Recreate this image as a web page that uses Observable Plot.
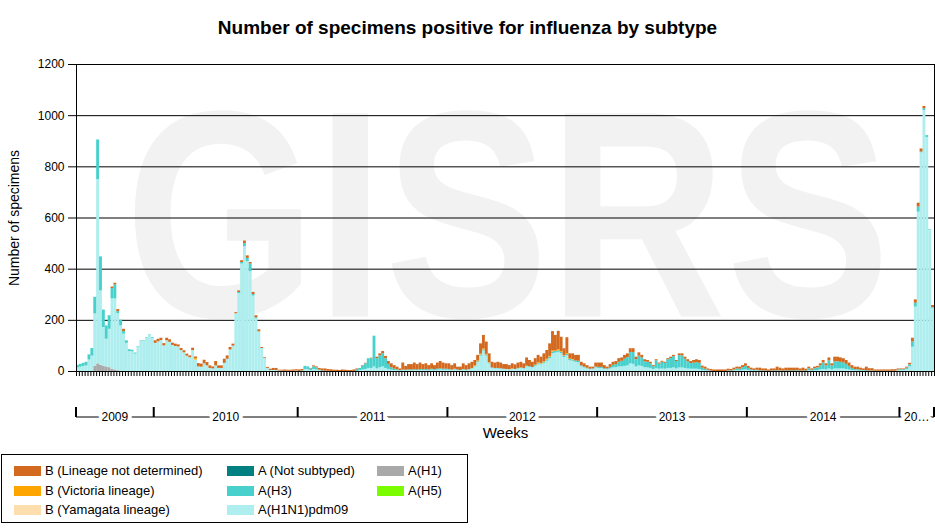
<!DOCTYPE html>
<html><head><meta charset="utf-8">
<script src="https://cdn.jsdelivr.net/npm/d3@7"></script>
<script src="https://cdn.jsdelivr.net/npm/@observablehq/plot@0.6"></script>
<style>
body{margin:0;background:#fff;font-family:"Liberation Sans",Arial,sans-serif;color:#000;}
#wrap{position:relative;width:935px;height:529px;overflow:hidden;}
#title{position:absolute;top:16px;left:0;width:935px;text-align:center;font-weight:bold;font-size:19px;line-height:24px;}
#chart{position:absolute;top:40px;left:0;}
#legendBox{position:absolute;left:1px;top:454px;width:467px;height:69px;border:1px solid #000;box-sizing:border-box;}
.item{position:absolute;font-size:13px;line-height:14px;white-space:nowrap;}
.sw{position:absolute;width:27px;height:10px;}
</style></head><body>
<div id="wrap">
<div id="title">Number of specimens positive for influenza by subtype</div>
<div id="chart"></div>
<div id="legendBox"></div>
</div>
<script>
// ---- categories ----
const years = [2009, 2010, 2011, 2012, 2013, 2014, 2015];
const weeksPerYear = [27, 50, 52, 52, 52, 53, 12];
const yearLabels = ["2009", "2010", "2011", "2012", "2013", "2014", "20…"];
const yTicks = [0, 200, 400, 600, 800, 1000, 1200];

const seriesNames = ["B (Lineage not determined)", "B (Victoria lineage)", "B (Yamagata lineage)",
  "A (Not subtyped)", "A(H3)", "A(H1N1)pdm09", "A(H1)", "A(H5)"];
const seriesColors = ["#D2691E", "#FFA500", "#FFDEAD", "#008080", "#48D1CC", "#AFEEEE", "#A9A9A9", "#7CFC00"];
const stackOrder = ["A(H1)", "A(H5)", "A(H1N1)pdm09", "A(H3)", "A (Not subtyped)",
  "B (Yamagata lineage)", "B (Victoria lineage)", "B (Lineage not determined)"];

// ---- weekly values (one per week) ----
const pdm09 = [
  14,17,20,22,45,60,205,720,290,152,108,150,276,278,223,178,146,110,78,77,68,96,118,118,131,141,130,
  110,116,121,100,120,114,102,98,96,82,73,60,54,82,45,
  18,17,30,22,12,10,22,12,12,32,48,84,99,
  226,305,420,488,430,390,295,206,155,90,52,12,
  4,4,4,2,1,1,1,1,1,2,
  0,0,8,7,4,8,6,3,0,0,0,0,
  0,0,0,0,0,0,0,0,0,4,
  6,8,12,12,18,10,15,18,12,8,
  5,4,3,2,3,3,4,3,4,3,4,4,4,3,5,4,5,6,5,5,
  5,4,6,4,4,6,5,6,10,18,35,60,80,60,30,
  12,10,10,9,8,8,7,9,8,10,12,10,
  18,16,14,20,28,26,32,40,50,70,72,75,70,55,62,42,40,36,34,
  18,14,10,7,8,14,
  12,12,8,7,10,14,15,18,18,20,22,30,28,18,22,20,15,14,12,8,
  12,9,10,9,12,12,14,10,14,14,12,10,9,9,9,8,
  4,3,2,0,0,0,0,0,0,0,0,2,4,3,5,6,
  4,2,2,2,0,0,0,0,0,0,0,0,0,0,0,0,0,0,0,0,0,
  3,2,3,4,6,8,6,10,6,10,10,10,10,8,6,4,3,3,2,2,
  0,0,0,0,0,0,0,0,0,0,0,3,
  4,4,8,18,95,252,623,855,1020,915,553,247
];
const h3 = [
  10,11,12,14,20,30,65,155,133,68,52,53,40,55,8,22,10,10,7,6,4,2,2,2,2,2,3,
  0,0,0,0,0,0,0,0,0,0,0,0,0,0,0,
  0,0,0,0,0,0,0,0,0,0,0,0,0,
  0,4,6,12,12,30,6,4,0,0,0,0,
  0,0,0,0,0,0,0,0,0,0,
  0,3,12,11,6,10,8,3,2,1,1,0,
  0,0,0,0,0,0,0,0,6,8,
  15,22,38,38,120,40,46,52,38,20,
  10,5,4,2,3,2,3,3,3,3,4,3,4,3,4,3,4,5,4,4,
  3,2,3,2,0,2,0,2,2,2,3,4,4,4,3,
  2,2,2,2,1,0,0,1,0,2,2,2,
  3,3,2,3,4,3,4,5,6,6,6,6,5,5,5,5,5,5,6,
  4,3,3,2,2,3,
  4,4,3,3,6,10,12,18,22,28,32,44,46,28,38,33,23,22,18,11,
  30,20,26,23,34,39,44,29,48,47,36,28,22,24,26,24,
  9,6,3,2,0,0,0,0,0,3,2,4,6,6,10,14,
  8,4,2,3,3,2,2,1,2,2,3,2,2,2,2,3,2,3,2,2,2,
  8,3,8,10,16,25,16,32,16,28,28,26,24,20,14,8,4,4,3,2,
  3,2,2,1,1,1,1,1,1,1,1,3,
  3,3,5,8,20,15,20,3,7,7,2,3
];
// A(H1): only seen in the first weeks; later weeks are zero
const h1 = [
  0,0,0,0,0,0,20,30,25,20,18,15,8,6,3
];
// B Victoria: sparse; weeks after the last value are zero
const victoria = [
  0,0,0,0,0,0,0,0,0,0, 0,0,0,0,0,0,0,0,0,0, 0,0,0,0,0,0,0,
  0,0,0,0,0,0,0,0,0,0, 0,0,0,0,6,
  0,0,0,0,0,0,0,0,0,0, 0,0,0,0,0,0,0,0,0,0, 0,0,0,0,0,0,0,0,0,0, 0,0,0,0,0,
  0,0,0,0,0,0,0,0,0,0, 0,0,0,0,0,0,0,0,0,0, 0,0,0,0,0,0,0,0,0,0,
  0,0,0,0,0,0,0,0,0,0, 0,0,0,0,0,0,0,0,0,0, 0,0,
  0,0,0,0,0,0,0,0,0, 3,3,4,4,3,2,
  0,0,0,0,0,0,0,0,0,0, 0,0,0,0,0,
  2,3,3,3,3,3,4,3,4,3,2,3,2,2
];
const bNotDetermined = [
  0,0,0,0,0,0,0,0,0,0,0,0,6,6,8,0,9,0,0,0,0,0,0,0,0,0,0,
  10,10,9,9,10,10,9,9,8,8,8,8,7,9,6,
  13,12,14,13,10,8,17,10,10,16,13,10,8,
  4,6,7,10,10,6,8,8,8,4,3,4,
  5,8,8,3,4,5,4,4,5,5,
  6,5,0,0,2,4,4,6,8,9,7,7,
  5,5,4,6,5,4,4,6,4,0,
  2,2,0,2,0,6,8,8,9,11,
  15,14,10,6,27,15,20,21,26,21,25,20,22,17,21,16,24,28,24,21,
  22,17,21,11,13,22,18,22,24,20,22,40,53,48,34,
  22,21,24,22,18,19,16,20,18,21,22,18,
  32,24,20,25,28,24,30,34,49,76,60,72,56,27,62,20,22,22,23,
  14,13,10,8,7,16,
  17,17,12,7,11,12,12,14,13,15,15,15,15,10,13,10,8,7,6,4,
  4,4,4,4,4,5,5,4,7,8,8,8,8,10,11,11,
  8,8,5,6,6,6,6,6,6,6,6,7,7,8,8,10,
  8,7,6,8,10,8,8,5,8,8,14,11,8,11,11,10,11,10,8,11,7,
  6,5,6,6,8,10,8,11,8,18,18,17,16,15,13,11,10,10,8,6,
  14,9,9,5,5,5,5,5,5,6,6,4,
  3,3,4,6,15,13,15,12,9,0,0,8
];

// ---- build table ----
const nWeeks = d3.sum(weeksPerYear);
const seriesData = {
  "A(H1)": h1, "A(H1N1)pdm09": pdm09, "A(H3)": h3,
  "B (Victoria lineage)": victoria, "B (Lineage not determined)": bNotDetermined
};
const rows = [];
for (const [name, arr] of Object.entries(seriesData)) {
  for (let i = 0; i < nWeeks; i++) rows.push({week: i, series: name, value: arr[i] ?? 0});
}
const weekTicks = d3.range(nWeeks + 1);
const bounds = [0, ...d3.cumsum(weeksPerYear)];

const font = "'Liberation Sans', Arial, sans-serif";
const chart = Plot.plot({
  width: 935, height: 410,
  marginLeft: 76, marginRight: 1, marginTop: 24, marginBottom: 79,
  style: {fontFamily: font, fontSize: "12px", color: "black", background: "white"},
  x: {domain: [0, nWeeks], axis: null},
  y: {domain: [0, 1200], axis: null},
  color: {domain: seriesNames, range: seriesColors},
  marks: [
    Plot.text(["GISRS"], {frameAnchor: "middle", dx: 2, dy: 4, fontSize: 246, fontWeight: "bold", fill: "#f2f2f2"}),
    Plot.gridY({ticks: yTicks.slice(1), stroke: "black", strokeOpacity: 1}),
    Plot.rectY(rows, {x: "week", interval: 1, y: "value", fill: "series", order: stackOrder, inset: 0}),
    Plot.ruleY([0], {stroke: "black"}),
    Plot.ruleX([0, nWeeks], {stroke: "black"}),
    Plot.axisY({ticks: yTicks, tickSize: 8, tickPadding: 4, label: null, fontSize: 12, tickFormat: d => String(d)}),
    Plot.axisX({ticks: weekTicks, tickSize: 5, tickFormat: () => "", label: null}),
    Plot.text(["Number of specimens"], {frameAnchor: "left", textAnchor: "middle", rotate: -90, dx: -62, fontSize: 14}),
    Plot.text(["Weeks"], {frameAnchor: "bottom", dy: 66, fontSize: 15})
  ]
});
document.getElementById("chart").appendChild(chart);

// watermark: stretch vertically (the reference letters are taller than wide)
d3.select(chart).selectAll("text").filter(function() { return this.textContent === "GISRS"; })
  .each(function() {
    const t = this.getAttribute("transform") || "";
    this.setAttribute("transform", (t + " scale(1,1.2)").trim());
  });

// year bracket axis using the plot's x scale
const xs = chart.scale("x"), ys = chart.scale("y");
const base = ys.apply(0);
const g = d3.select(chart).append("g").attr("stroke", "black");
g.append("line").attr("x1", xs.apply(0)).attr("x2", xs.apply(nWeeks))
  .attr("y1", base + 46).attr("y2", base + 46).attr("stroke-width", 1);
bounds.forEach(b => {
  g.append("line").attr("x1", xs.apply(b)).attr("x2", xs.apply(b))
    .attr("y1", base + 36).attr("y2", base + 46).attr("stroke-width", 2);
});
const tg = d3.select(chart).append("g").attr("font-size", 12).attr("text-anchor", "middle");
yearLabels.forEach((lab, k) => {
  tg.append("text").attr("x", xs.apply((bounds[k] + bounds[k + 1]) / 2)).attr("y", base + 46)
    .attr("dy", "0.36em").attr("fill", "black").attr("stroke", "white").attr("stroke-width", 8)
    .attr("paint-order", "stroke").attr("stroke-linejoin", "round").text(lab);
});

// legend
const wrap = document.getElementById("wrap");
const colX = [14, 227, 377], rowY = [466, 486, 505];
seriesNames.forEach((name, k) => {
  const c = Math.floor(k / 3), r = k % 3;
  const sw = document.createElement("div");
  sw.className = "sw"; sw.style.left = colX[c] + "px"; sw.style.top = rowY[r] + "px";
  sw.style.background = seriesColors[k];
  wrap.appendChild(sw);
  const t = document.createElement("div");
  t.className = "item"; t.style.left = (colX[c] + 31) + "px"; t.style.top = (rowY[r] - 2) + "px";
  t.textContent = name;
  wrap.appendChild(t);
});
</script>
</body></html>
